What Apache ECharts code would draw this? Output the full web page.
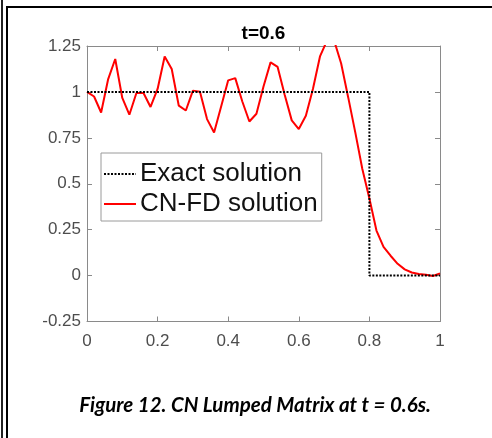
<!DOCTYPE html>
<html>
<head>
<meta charset="utf-8">
<script src="https://cdn.jsdelivr.net/npm/echarts@6/dist/echarts.min.js"></script>
<style>
html,body{margin:0;padding:0;background:#fff;}
#chart{width:492px;height:438px;}
</style>
</head>
<body>
<div id="chart"></div>
<script>
// ---- data ----
var xValues = [0,0.02,0.04,0.06,0.08,0.10,0.12,0.14,0.16,0.18,0.20,0.22,0.24,0.26,0.28,0.30,0.32,0.34,0.36,0.38,0.40,0.42,0.44,0.46,0.48,0.50,0.52,0.54,0.56,0.58,0.60,0.62,0.64,0.66,0.68,0.70,0.72,0.74,0.76,0.78,0.80,0.82,0.84,0.86,0.88,0.90,0.92,0.94,0.96,0.98,1.00];
var cnfdValues = [1.00,0.975,0.888,1.070,1.179,0.967,0.876,0.994,0.994,0.918,1.016,1.193,1.125,0.925,0.899,1.007,1.001,0.852,0.779,0.921,1.063,1.075,0.948,0.839,0.881,1.030,1.161,1.136,0.985,0.845,0.798,0.870,1.016,1.193,1.28,1.28,1.155,0.97,0.78,0.58,0.42,0.245,0.156,0.108,0.064,0.034,0.017,0.009,0.004,-0.002,0.012];
var exactX = [0,0.8,0.8,1];
var exactY = [1,1,0,0];
var xTicks = [0,0.2,0.4,0.6,0.8,1];
var yTicks = [-0.25,0,0.25,0.5,0.75,1,1.25];
var seriesNames = ['Exact solution','CN-FD solution'];
var titleText = 't=0.6';
var captionText = 'Figure 12. CN Lumped Matrix at t = 0.6s.';

var cnfdData = xValues.map(function(x,i){return [x,cnfdValues[i]];});
var exactData = exactX.map(function(x,i){return [x,exactY[i]];});

var axisColor = '#8a8a8a';
var labelColor = '#4d4d4d';
var chart = echarts.init(document.getElementById('chart'), null, {renderer:'canvas'});
var gridL = 87, gridT = 46, gridW = 353, gridH = 275.5;

chart.setOption({
  backgroundColor:'#fff',
  animation:false,
  grid:{left:gridL, top:gridT, width:gridW, height:gridH, show:false},
  xAxis:[{
    type:'value', min:xTicks[0], max:xTicks[xTicks.length-1], interval:0.2, position:'bottom',
    axisLine:{show:true,onZero:false,lineStyle:{color:axisColor,width:1}},
    axisTick:{show:true,inside:true,length:5,lineStyle:{color:axisColor}},
    axisLabel:{color:labelColor,fontSize:17,fontFamily:'Liberation Sans, Arial',margin:11},
    splitLine:{show:false}
  },{
    type:'value', min:xTicks[0], max:xTicks[xTicks.length-1], interval:0.2, position:'top',
    axisLine:{show:true,onZero:false,lineStyle:{color:axisColor,width:1}},
    axisTick:{show:true,inside:true,length:5,lineStyle:{color:axisColor}},
    axisLabel:{show:false}, splitLine:{show:false}
  }],
  yAxis:[{
    type:'value', min:yTicks[0], max:yTicks[yTicks.length-1], interval:0.25, position:'left',
    axisLine:{show:true,onZero:false,lineStyle:{color:axisColor,width:1}},
    axisTick:{show:true,inside:true,length:5,lineStyle:{color:axisColor}},
    axisLabel:{color:labelColor,fontSize:17,fontFamily:'Liberation Sans, Arial',margin:6},
    splitLine:{show:false}
  },{
    type:'value', min:yTicks[0], max:yTicks[yTicks.length-1], interval:0.25, position:'right',
    axisLine:{show:true,onZero:false,lineStyle:{color:axisColor,width:1}},
    axisTick:{show:true,inside:true,length:5,lineStyle:{color:axisColor}},
    axisLabel:{show:false}, splitLine:{show:false}
  }],
  legend:{
    orient:'vertical', left:101, top:153,
    data:seriesNames,
    backgroundColor:'#fff', borderColor:'#9a9a9a', borderWidth:1,
    padding:[6,4,2,2], itemGap:0, itemWidth:32, itemHeight:14,
    itemStyle:{opacity:0, borderWidth:0},
    textStyle:{fontSize:26, color:'#111', fontFamily:'Liberation Sans, Arial', lineHeight:30, padding:[0,0,0,-1]}
  },
  graphic:[
    {type:'text', x:263.5, y:34, style:{text:titleText, font:'bold 19px "Liberation Sans", Arial', fill:'#000', textAlign:'center', textVerticalAlign:'middle'}},
    {type:'text', x:255, y:405, style:{text:captionText, font:'italic bold 20.5px Lato, "Open Sans", sans-serif', fill:'#000', textAlign:'center', textVerticalAlign:'middle'}},
    {type:'line', shape:{x1:2,y1:0,x2:2,y2:438}, style:{stroke:'#222',lineWidth:2}},
    {type:'line', shape:{x1:7,y1:6,x2:7,y2:438}, style:{stroke:'#000',lineWidth:2}},
    {type:'line', shape:{x1:6,y1:7,x2:492,y2:7}, style:{stroke:'#000',lineWidth:2}}
  ],
  series:[
    {name:seriesNames[0], type:'line', data:exactData, symbol:'none', clip:true, z:3,
     lineStyle:{color:'#000', width:2, type:[2,1.5]}, itemStyle:{color:'#000'}},
    {name:seriesNames[1], type:'line', data:cnfdData, symbol:'none', clip:true, z:2,
     lineStyle:{color:'#ff0000', width:2}, itemStyle:{color:'#ff0000'}}
  ]
});
</script>
</body>
</html>
